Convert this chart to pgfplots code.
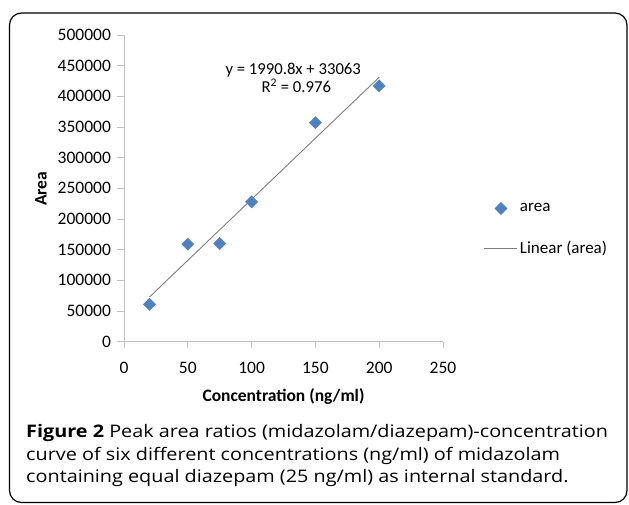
\documentclass[border=0pt]{standalone}
\usepackage{fontspec}
\setmainfont{Carlito}
\newfontfamily\capfont{Open Sans}
\usepackage{pgfplots}
\pgfplotsset{compat=1.18}
\definecolor{mblue}{HTML}{4F81BD}
\definecolor{axgray}{HTML}{BFBFBF}
\definecolor{trend}{HTML}{7F7F7F}
\pgfplotsset{
  markleg/.style={legend image code/.code={\draw[##1] plot coordinates {(16.5pt,0pt)};}},
  lineleg/.style={legend image code/.code={\draw[##1] (0pt,0pt) -- (33pt,0pt);}},
}
\begin{document}
\begin{tikzpicture}[x=1pt,y=1pt]
\clip (0,0) rectangle (629,504);
\fill[white] (0,0) rectangle (629,504);
\draw[line width=1.2pt, rounded corners=12pt] (9.5,491) rectangle (627,1.5);
\begin{axis}[
  at={(124pt,162.3pt)}, anchor=south west,
  scale only axis, width=319pt, height=306.7pt,
  xmin=0, xmax=250, ymin=0, ymax=500000,
  axis x line*=bottom, axis y line*=left,
  axis line style={axgray, line width=0.8pt, -},
  xtick={0,50,...,250}, ytick={0,50000,...,500000},
  tick style={axgray, line width=0.8pt},
  tick align=outside, major tick length=6.5pt,
  scaled y ticks=false,
  /pgf/number format/fixed,
  /pgf/number format/1000 sep={},
  /pgf/number format/assume math mode=true,
  xticklabel={\fontsize{17.5}{17.5}\selectfont\pgfmathprintnumber{\tick}},
  yticklabel={\fontsize{17.5}{17.5}\selectfont\pgfmathprintnumber{\tick}},
  xticklabel style={text=black, yshift=-10pt},
  yticklabel style={text=black, xshift=-3pt},
  xlabel={\textbf{Concentration (ng/ml)}},
  ylabel={\textbf{Area}},
  label style={font=\fontsize{17.5}{17.5}\selectfont},
  xlabel style={at={(axis description cs:0.5,-0.18)}, anchor=center},
  ylabel style={at={(axis description cs:-0.26,0.499)}, anchor=center, rotate=0},
  legend style={at={(axis description cs:1.128,0.366)}, anchor=west, draw=none, fill=none,
    font=\fontsize{17}{17}\selectfont, row sep=24pt, inner sep=0pt},
  legend cell align=left,
  clip=false,
]
\addplot[only marks, mark=square*, mark size=4.3pt, mark options={rotate=45, fill=mblue, draw=mblue}, markleg]
  coordinates {(20,61000) (50,159000) (75,160000) (100,228000) (150,357000) (200,417000)};
\addlegendentry{area}
\addplot[trend, line width=0.9pt, no marks, lineleg]
  coordinates {(20,72879) (200,431223)};
\addlegendentry{Linear (area)}
\node[font=\fontsize{16.7}{16.7}\selectfont, anchor=base] at (axis cs:132.6,435000) {y = 1990.8x + 33063};
\node[font=\fontsize{16.7}{16.7}\selectfont, anchor=base] at (axis cs:135,405500) {R\textsuperscript{2} = 0.976};
\end{axis}
\begin{scope}[font=\capfont\fontsize{17.3}{22}\selectfont, text=black]
\node[anchor=base west, inner sep=0pt, xscale=1.145] at (26,66.7) {\textbf{Figure 2} Peak area ratios (midazolam/diazepam)-concentration};
\node[anchor=base west, inner sep=0pt, xscale=1.145] at (26,44) {curve of six different concentrations (ng/ml) of midazolam};
\node[anchor=base west, inner sep=0pt, xscale=1.145] at (26,21.3) {containing equal diazepam (25 ng/ml) as internal standard.};
\end{scope}
\end{tikzpicture}
\end{document}
